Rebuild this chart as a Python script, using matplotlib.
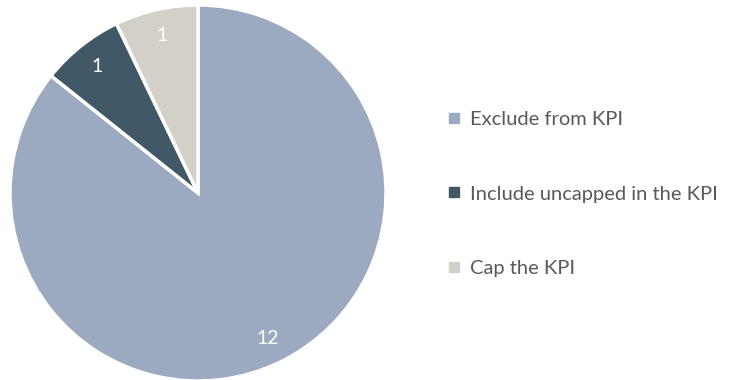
import matplotlib.pyplot as plt
from matplotlib.lines import Line2D

categories = ["Exclude from KPI", "Include uncapped in the KPI", "Cap the KPI"]
values = [12, 1, 1]
colors = ["#9BAAC0", "#415866", "#D3D0C8"]

W, H, DPI = 741, 380, 100
fig = plt.figure(figsize=(W / DPI, H / DPI), dpi=DPI)

# pie centred at (198, 193) px with radius ~187 px
cx, cy, r = 198, 193, 188
lim = 1.02
half = r * lim
ax = fig.add_axes([(cx - half) / W, (H - cy - half) / H, 2 * half / W, 2 * half / H])
wedges, texts = ax.pie(
    values,
    colors=colors,
    startangle=90,
    counterclock=False,
    radius=1,
    labels=[str(v) for v in values],
    labeldistance=0.86,
    wedgeprops=dict(edgecolor="white", linewidth=2.5),
    textprops=dict(color="white", fontsize=14, family="Lato"),
)
for t in texts:
    t.set_ha("center")
    t.set_va("center")
ax.set_xlim(-lim, lim)
ax.set_ylim(-lim, lim)
ax.set_aspect("equal")
ax.axis("off")

handles = [Line2D([], [], marker="s", linestyle="none", markersize=6.5,
                  markerfacecolor=c, markeredgecolor=c) for c in colors]
fig.legend(handles, categories, loc="center left",
           bbox_to_anchor=(430 / W, 1 - 194 / H), frameon=False,
           labelspacing=2.85, handlelength=0.6, handletextpad=0.5,
           prop=dict(family="Lato", size=14.5), labelcolor="#595959")

fig.savefig("out.png", dpi=DPI)
